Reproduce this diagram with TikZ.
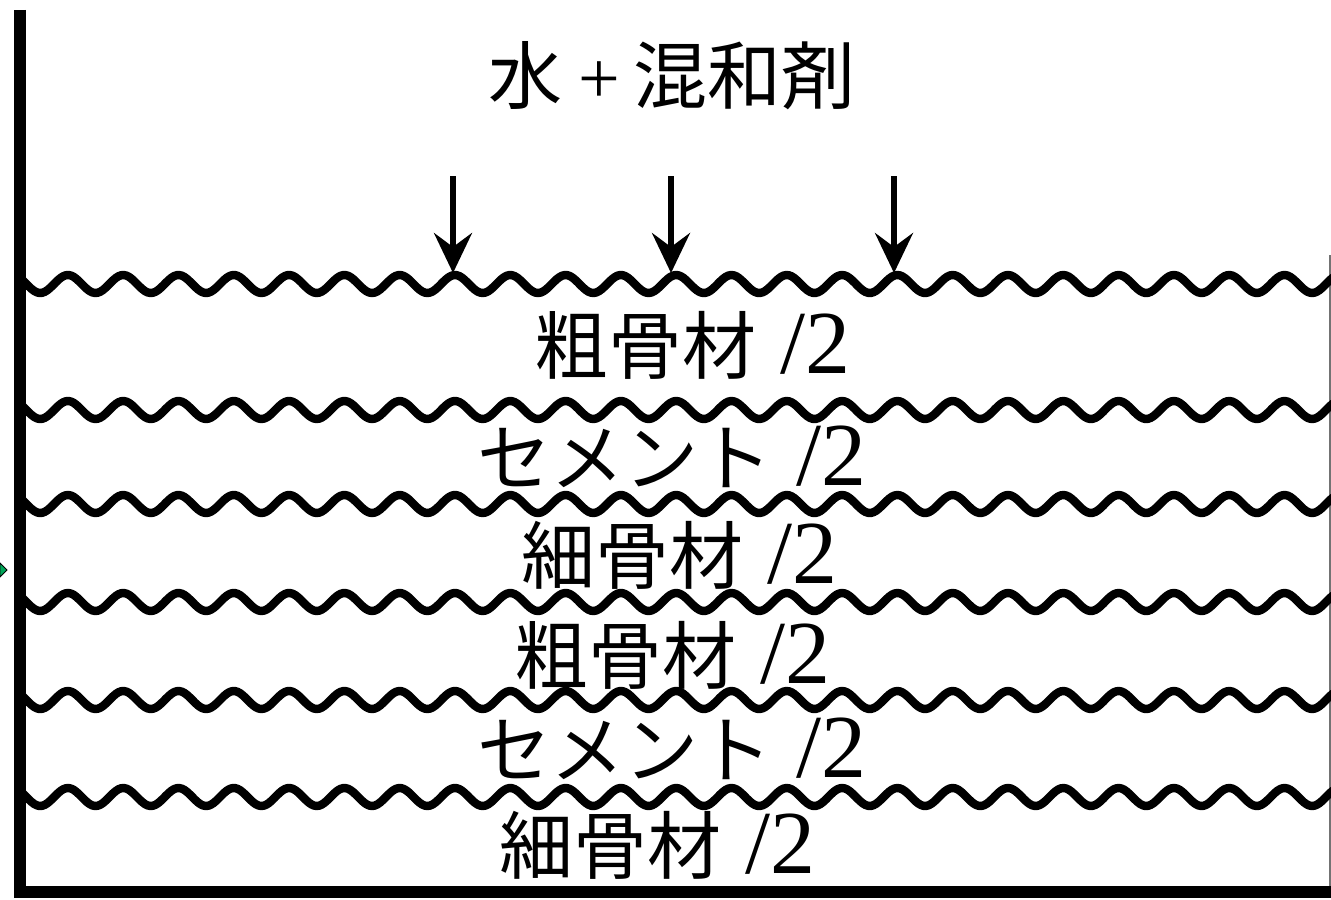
\documentclass[tikz,border=0pt]{standalone}
\usepackage{fontspec}
\setmainfont{Liberation Serif}
\newfontfamily\cjk{Noto Sans CJK JP}
\usetikzlibrary{arrows.meta}
\tikzset{
  lbl/.style={inner sep=0pt, anchor=center, font=\fontsize{37pt}{42pt}\selectfont},
  wallline/.style={line width=6pt, line join=miter},
  wavy/.style={line width=4.2pt, line join=round, line cap=round},
  pour/.style={line width=2.6pt, -{Stealth[length=20pt,width=19pt,inset=7pt]}},
}
\newcommand\halfpart{\hspace{12pt}{\fontsize{45pt}{48pt}\selectfont /2}}
\begin{document}
\begin{tikzpicture}[x=0.5pt,y=-0.5pt]
\useasboundingbox (0,0) rectangle (1331,899);
\fill[white] (0,0) rectangle (1331,899);
% container walls
\coordinate (wt) at (20,10);
\coordinate (wb) at (20,892);
\coordinate (br) at (1345,892);
\coordinate (rt) at (1329.5,255);
\coordinate (rb) at (1329.5,892);
\draw[line width=1pt, black!55] (rt) -- (rb);
% wavy layer boundaries
\foreach \yy in {284,410,504,602,700,797}{
  \draw[wavy] plot[domain=21:1338, samples=500, smooth] (\x,{\yy-9*cos(6.51*(\x-455))});
}
\draw[wallline] (wt) -- (wb) -- (br);
% arrows
\coordinate (a1s) at (453,176); \coordinate (a1e) at (453,273);
\coordinate (a2s) at (671,176); \coordinate (a2e) at (671,273);
\coordinate (a3s) at (894,176); \coordinate (a3e) at (894,273);
\draw[pour] (a1s) -- (a1e);
\draw[pour] (a2s) -- (a2e);
\draw[pour] (a3s) -- (a3e);
% labels
\node[lbl] (top) at (672,76) {{\cjk 水}\hspace{8pt}+\hspace{7pt}{\cjk 混和剤}};
\node[lbl] (l1) at (692,345) {{\cjk 粗骨材}\halfpart};
\node[lbl] (l2) at (672,457) {{\cjk セメント}\halfpart};
\node[lbl] (l3) at (679,555) {{\cjk 細骨材}\halfpart};
\node[lbl] (l4) at (672,655) {{\cjk 粗骨材}\halfpart};
\node[lbl] (l5) at (672,749) {{\cjk セメント}\halfpart};
\node[lbl] (l6) at (657,845) {{\cjk 細骨材}\halfpart};
% small marker at left edge
\fill[teal!70!green, draw=black, line width=0.4pt] (0,563) -- (7,570) -- (0,577) -- cycle;
\end{tikzpicture}
\end{document}
